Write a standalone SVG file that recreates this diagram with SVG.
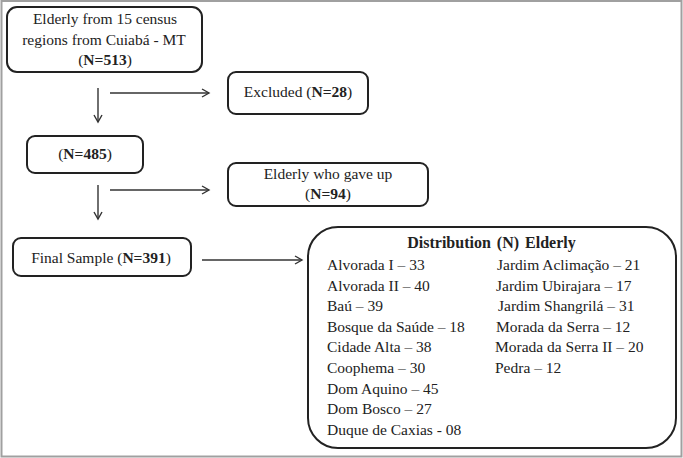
<svg xmlns="http://www.w3.org/2000/svg" width="683" height="458" viewBox="0 0 683 458">
<style>
.box{fill:#fff;stroke:#222;stroke-width:2}
.t{font-size:15.5px;fill:#222}
.c{text-anchor:middle}
.b{font-weight:bold}
.conn{stroke:#333;stroke-width:1.4;fill:none}
</style>
<defs>
<marker id="ah" markerUnits="userSpaceOnUse" markerWidth="12" markerHeight="12" refX="8" refY="5" orient="auto">
<path d="M1,1 L8,5 L1,9" fill="none" stroke="#333" stroke-width="1.4"/>
</marker>
</defs>
<rect x="1.5" y="1" width="680" height="455.5" fill="#fff" stroke="#a0a0a0" stroke-width="2"/>
<g id="connectors">
<line class="conn" x1="98" y1="88" x2="98" y2="122" marker-end="url(#ah)"/>
<line class="conn" x1="110" y1="93" x2="209" y2="93" marker-end="url(#ah)"/>
<line class="conn" x1="98" y1="185" x2="98" y2="219" marker-end="url(#ah)"/>
<line class="conn" x1="110" y1="190" x2="209" y2="190" marker-end="url(#ah)"/>
<line class="conn" x1="202" y1="260" x2="302" y2="260" marker-end="url(#ah)"/>
</g>
<g font-family="'Liberation Serif', 'Times New Roman', 'DejaVu Serif', serif">
<g id="elderly">
<rect class="box" x="7" y="7" width="195" height="65" rx="10"/>
<text class="t c" x="105" y="23.5">Elderly from 15 census</text>
<text class="t c" x="104" y="44.5">regions from Cuiabá - MT</text>
<text class="t c" x="105" y="64.5">(<tspan class="b">N=513</tspan>)</text>
</g>
<g id="excluded">
<rect class="box" x="228" y="72" width="140" height="42" rx="8"/>
<text class="t c" x="298" y="97">Excluded (<tspan class="b">N=28</tspan>)</text>
</g>
<g id="n485">
<rect class="box" x="27" y="136" width="116" height="37" rx="8"/>
<text class="t c" x="85" y="158.5">(<tspan class="b">N=485</tspan>)</text>
</g>
<g id="gaveup">
<rect class="box" x="228" y="163" width="200" height="43" rx="8"/>
<text class="t c" x="328" y="179">Elderly who gave up</text>
<text class="t c" x="328" y="198.5">(<tspan class="b">N=94</tspan>)</text>
</g>
<g id="final">
<rect class="box" x="13" y="238" width="178" height="38" rx="8"/>
<text class="t c" x="101" y="263">Final Sample (<tspan class="b">N=391</tspan>)</text>
</g>
<g id="distribution">
<rect class="box" x="308" y="227" width="368" height="221" rx="30"/>
<text class="t c b" x="491.5" y="248" style="font-size:16px;word-spacing:2px">Distribution (N) Elderly</text>
<text class="t" x="327" y="270">Alvorada I – 33</text>
<text class="t" x="327" y="290.6">Alvorada II – 40</text>
<text class="t" x="327" y="311.2">Baú – 39</text>
<text class="t" x="327" y="331.8">Bosque da Saúde – 18</text>
<text class="t" x="327" y="352.4">Cidade Alta – 38</text>
<text class="t" x="327" y="373">Coophema – 30</text>
<text class="t" x="327" y="393.6">Dom Aquino – 45</text>
<text class="t" x="327" y="414.2">Dom Bosco – 27</text>
<text class="t" x="327" y="434.8">Duque de Caxias - 08</text>
<text class="t" x="497" y="270">Jardim Aclimação – 21</text>
<text class="t" x="496" y="290.6">Jardim Ubirajara – 17</text>
<text class="t" x="498" y="311.2">Jardim Shangrilá – 31</text>
<text class="t" x="496" y="331.8">Morada da Serra – 12</text>
<text class="t" x="495" y="352.4">Morada da Serra II – 20</text>
<text class="t" x="495" y="373">Pedra – 12</text>
</g>
</g>
</svg>
